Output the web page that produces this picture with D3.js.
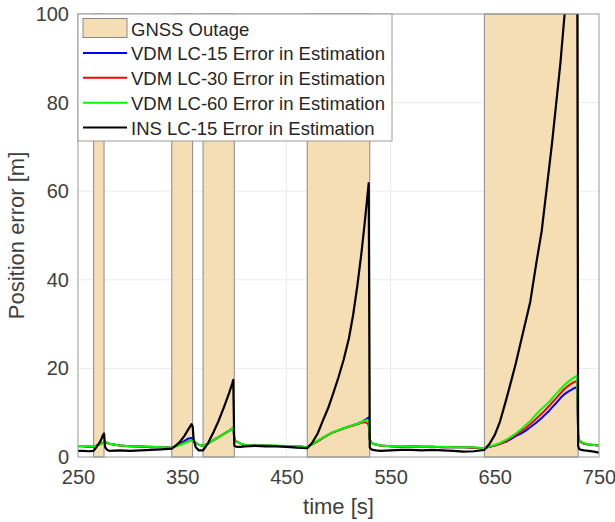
<!DOCTYPE html>
<html>
<head>
<meta charset="utf-8">
<script src="https://cdn.jsdelivr.net/npm/d3@7"></script>
<style>
  body { margin: 0; background: #fff; }
  svg text { font-family: "Liberation Sans", Arial, Helvetica, sans-serif; fill: #333; }
</style>
</head>
<body>
<svg id="chart" width="615" height="522"></svg>
<script>

// time stamps [s] shared by all series
let time = [
  250, 255, 260, 265, 267, 270, 272, 274, 275, 276,
  278, 280, 290, 300, 310, 320, 330, 340, 344, 348,
  352, 356, 359, 360, 361, 363, 366, 370, 375, 380,
  385, 390, 395, 398, 399, 400, 401, 403, 406, 410,
  420, 430, 440, 450, 460, 470, 475, 480, 485, 490,
  495, 500, 505, 510, 514, 518, 522, 525, 528, 529,
  530, 531, 533, 536, 540, 550, 560, 570, 580, 590,
  600, 610, 620, 630, 640, 645, 650, 655, 661, 665,
  670, 675, 680, 684, 690, 695, 698, 702, 705, 709,
  713, 717, 720, 725, 729, 730, 731, 733, 736, 740,
  745, 750
];

// position error [m]
let vdmLC15 = [
  2.4, 2.4, 2.3, 2.3, 2.5, 2.8, 3.0, 3.2, 3.3, 3.5,
  3.2, 3.0, 2.6, 2.4, 2.4, 2.2, 2.2, 2.1, 2.5, 3.0,
  3.6, 4.2, 4.3, 4.0, 3.5, 3.2, 2.8, 2.5, 3.1, 3.8,
  4.5, 5.2, 5.9, 6.4, 6.7, 4.2, 3.6, 3.4, 3.0, 2.7,
  2.6, 2.6, 2.5, 2.5, 2.4, 2.2, 2.9, 3.6, 4.3, 5.0,
  5.6, 6.0, 6.5, 6.9, 7.2, 7.5, 7.9, 8.3, 8.8, 8.9,
  4.0, 3.4, 3.0, 2.8, 2.6, 2.4, 2.3, 2.4, 2.3, 2.3,
  2.2, 2.2, 2.2, 2.1, 2.0, 2.3, 2.6, 3.0, 3.5, 4.0,
  4.7, 5.3, 6.0, 6.7, 7.8, 8.8, 9.5, 10.4, 11.2, 12.2,
  13.3, 14.2, 14.7, 15.4, 15.8, 5.0, 3.8, 3.3, 3.0, 2.8,
  2.7, 2.6
];

let vdmLC30 = [
  2.5, 2.4, 2.4, 2.3, 2.5, 2.8, 3.0, 3.2, 3.3, 3.4,
  3.2, 3.0, 2.6, 2.4, 2.3, 2.3, 2.2, 2.1, 2.4, 2.8,
  3.2, 3.6, 3.8, 3.7, 3.5, 3.2, 2.8, 2.5, 3.1, 3.8,
  4.5, 5.2, 5.9, 6.4, 6.6, 4.2, 3.6, 3.4, 3.0, 2.7,
  2.6, 2.6, 2.5, 2.5, 2.4, 2.2, 2.9, 3.6, 4.3, 5.0,
  5.6, 6.0, 6.4, 6.8, 7.1, 7.4, 7.7, 7.9, 7.6, 7.0,
  4.0, 3.4, 3.0, 2.8, 2.6, 2.4, 2.3, 2.4, 2.3, 2.3,
  2.2, 2.2, 2.2, 2.1, 2.0, 2.3, 2.6, 3.0, 3.6, 4.2,
  5.0, 5.8, 6.6, 7.4, 8.7, 9.8, 10.5, 11.5, 12.3, 13.3,
  14.4, 15.4, 16.0, 16.8, 17.2, 5.0, 3.8, 3.3, 3.0, 2.8,
  2.7, 2.6
];

let vdmLC60 = [
  2.5, 2.5, 2.4, 2.4, 2.5, 2.7, 2.9, 3.1, 3.2, 3.5,
  3.3, 3.0, 2.6, 2.4, 2.4, 2.3, 2.2, 2.1, 2.4, 2.7,
  3.1, 3.5, 3.8, 3.7, 3.5, 3.2, 2.8, 2.5, 3.1, 3.8,
  4.5, 5.2, 5.9, 6.4, 6.7, 4.2, 3.6, 3.4, 3.0, 2.7,
  2.6, 2.6, 2.6, 2.5, 2.4, 2.2, 3.0, 3.7, 4.4, 5.0,
  5.6, 6.1, 6.5, 6.9, 7.2, 7.5, 7.9, 8.2, 8.4, 8.3,
  4.0, 3.5, 3.0, 2.8, 2.6, 2.4, 2.4, 2.4, 2.3, 2.3,
  2.3, 2.2, 2.2, 2.2, 2.0, 2.4, 2.7, 3.2, 3.9, 4.5,
  5.3, 6.2, 7.3, 8.1, 9.7, 10.9, 11.5, 12.4, 13.2, 14.3,
  15.3, 16.3, 16.9, 17.8, 18.4, 5.0, 3.9, 3.4, 3.1, 2.9,
  2.7, 2.6
];

let insLC15 = [
  1.4, 1.4, 1.3, 1.4, 2.0, 3.0, 3.8, 5.0, 5.3, 2.2,
  1.6, 1.4, 1.5, 1.4, 1.5, 1.6, 1.7, 1.9, 2.6, 3.5,
  4.7, 6.3, 7.4, 7.0, 4.0, 2.2, 1.5, 1.5, 3.2, 5.6,
  8.2, 11.2, 14.4, 16.6, 17.4, 2.6, 2.4, 2.3, 2.3, 2.4,
  2.5, 2.4, 2.4, 2.3, 2.1, 2.0, 3.3, 5.3, 8.2, 11.0,
  14.4, 18.0, 22.0, 26.8, 32.0, 38.5, 46.0, 52.5, 59.5, 61.8,
  2.2, 1.8, 1.6, 1.5, 1.4, 1.5, 1.6, 1.6, 1.5, 1.6,
  1.5, 1.4, 1.2, 1.3, 1.6, 3.0, 5.0, 8.0, 13.0, 16.5,
  21.0, 26.0, 31.0, 35.0, 44.0, 51.0, 57.0, 65.0, 71.0, 80.0,
  89.0, 100.0, 107.0, 120.0, 130.0, 2.5, 1.8, 1.6, 1.5, 1.4,
  1.2, 1.0
];

// GNSS outage windows [s]
let outages = [[265, 275], [340, 360], [370, 400], [470, 530], [640, 730]];

let xTicks = [250, 350, 450, 550, 650, 750];
let yTicks = [0, 20, 40, 60, 80, 100];

let legendLabels = [
  "GNSS Outage",
  "VDM LC-15 Error in Estimation",
  "VDM LC-30 Error in Estimation",
  "VDM LC-60 Error in Estimation",
  "INS LC-15 Error in Estimation"
];

let series = [vdmLC15, vdmLC30, vdmLC60, insLC15];
let seriesColors = ["#0000ff", "#ff0000", "#00ff00", "#000000"];

let svg = d3.select("#chart");

let x = d3.scaleLinear().domain([250, 750]).range([78, 599]);
let y = d3.scaleLinear().domain([0, 100]).range([457, 14]);

svg.append("defs").append("clipPath").attr("id", "plot-clip")
  .append("rect")
    .attr("x", x(250)).attr("y", y(100))
    .attr("width", x(750) - x(250)).attr("height", y(0) - y(100));

// grid
svg.append("g").selectAll("line")
  .data(xTicks.slice(1, -1)).enter().append("line")
    .attr("x1", d => x(d)).attr("x2", d => x(d))
    .attr("y1", y(0)).attr("y2", y(100))
    .attr("stroke", "#ebebeb");

svg.append("g").selectAll("line")
  .data(yTicks.slice(1, -1)).enter().append("line")
    .attr("x1", x(250)).attr("x2", x(750))
    .attr("y1", d => y(d)).attr("y2", d => y(d))
    .attr("stroke", "#ebebeb");

// outage patches
svg.append("g").selectAll("rect")
  .data(outages).enter().append("rect")
    .attr("x", d => x(d[0]))
    .attr("y", y(100))
    .attr("width", d => x(d[1]) - x(d[0]))
    .attr("height", y(0) - y(100))
    .attr("fill", "#f5deb3")
    .attr("stroke", "#8a8a8a")
    .attr("stroke-width", 1);

let line = d3.line()
  .x((d, i) => x(time[i]))
  .y(d => y(d));

svg.append("g").attr("clip-path", "url(#plot-clip)")
  .selectAll("path")
  .data(series).enter().append("path")
    .attr("d", d => line(d))
    .attr("fill", "none")
    .attr("stroke", (d, i) => seriesColors[i])
    .attr("stroke-width", (d, i) => i == 3 ? 2.2 : 2)
    .attr("stroke-linejoin", "round");

// axes
let xAxis = svg.append("g")
  .attr("transform", "translate(0," + y(0) + ")")
  .call(d3.axisBottom(x).tickValues(xTicks).tickSize(0).tickPadding(13));

let yAxis = svg.append("g")
  .attr("transform", "translate(" + x(250) + ",0)")
  .call(d3.axisLeft(y).tickValues(yTicks).tickSize(0).tickPadding(9));

[xAxis, yAxis].forEach(function(g) {
  g.attr("font-family", null).attr("font-size", null);
  g.select(".domain").remove();
  g.selectAll("text").style("font-size", "20px").style("fill", "#404040");
});

svg.append("rect")
  .attr("x", x(250)).attr("y", y(100))
  .attr("width", x(750) - x(250)).attr("height", y(0) - y(100))
  .attr("fill", "none")
  .attr("stroke", "#9a9a9a");

svg.append("text")
  .attr("x", (x(250) + x(750)) / 2).attr("y", 514)
  .attr("text-anchor", "middle")
  .style("font-size", "22px")
  .style("fill", "#404040")
  .text("time [s]");

svg.append("text")
  .attr("transform", "translate(24," + (y(0) + y(100)) / 2 + ") rotate(-90)")
  .attr("text-anchor", "middle")
  .style("font-size", "22px")
  .style("fill", "#404040")
  .text("Position error [m]");

// legend
let legend = svg.append("g");

legend.append("rect")
  .attr("x", 78).attr("y", 14)
  .attr("width", 314).attr("height", 127)
  .attr("fill", "#fff")
  .attr("stroke", "#9a9a9a");

let rowY = d3.scaleLinear().domain([0, 4]).range([28, 127.5]);

legend.append("rect")
  .attr("x", 83).attr("y", 18.5)
  .attr("width", 44).attr("height", 19)
  .attr("fill", "#f5deb3")
  .attr("stroke", "#8a8a8a");

legend.selectAll(".leg-line")
  .data(seriesColors).enter().append("line")
    .attr("class", "leg-line")
    .attr("x1", 83).attr("x2", 127)
    .attr("y1", (d, i) => rowY(i + 1)).attr("y2", (d, i) => rowY(i + 1))
    .attr("stroke", d => d)
    .attr("stroke-width", 2);

legend.selectAll(".leg-text")
  .data(legendLabels).enter().append("text")
    .attr("class", "leg-text")
    .attr("x", 131)
    .attr("y", (d, i) => rowY(i) + 7.5)
    .style("font-size", "18.5px")
    .style("fill", "#262626")
    .text(d => d);

</script>
</body>
</html>
